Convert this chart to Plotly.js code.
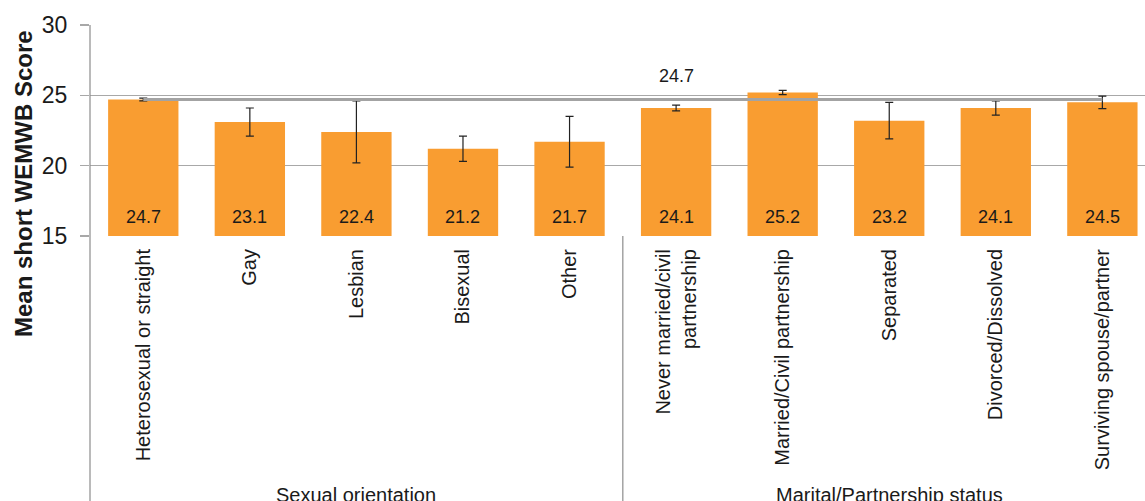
<!DOCTYPE html>
<html>
<head>
<meta charset="utf-8">
<script src="https://cdn.plot.ly/plotly-3.0.1.min.js"></script>
<style>
  html, body { margin: 0; padding: 0; background: #fff; }
  #chart { width: 1145px; height: 501px; }
</style>
</head>
<body>
<div id="chart"></div>
<script>
// ---- data ----
const categories = [
  "Heterosexual or straight", "Gay", "Lesbian", "Bisexual", "Other",
  "Never married/civil<br>partnership", "Married/Civil partnership", "Separated",
  "Divorced/Dissolved", "Surviving spouse/partner"
];
const meanScores = [24.7, 23.1, 22.4, 21.2, 21.7, 24.1, 25.2, 23.2, 24.1, 24.5];
const errorHalf  = [0.1, 1.0, 2.2, 0.9, 1.8, 0.2, 0.15, 1.3, 0.5, 0.45];
const overallMean = 24.7;
const groups = ["Sexual orientation", "Marital/Partnership status"];
const groupSizes = [5, 5];
const yTicks = [15, 20, 25, 30];

// ---- layout geometry ----
const W = 1145, H = 501;
const mL = 90, mR = 0, mT = 25, mB = 265;
const plotW = W - mL - mR, plotH = H - mT - mB;
const xRange = [-0.5, categories.length - 0.6];
const yRange = [yTicks[0], yTicks[yTicks.length - 1]];
const px2x = p => (p - mL) / plotW;
const px2y = p => (H - mB - p) / plotH;
const cat2paper = c => (c - xRange[0]) / (xRange[1] - xRange[0]);

const orange = "#F99D31";
const txt = "#1a1a1a";
const font = "Liberation Sans, Arial, sans-serif";

const bars = {
  type: "bar",
  x: categories,
  y: meanScores,
  width: 0.66,
  marker: { color: orange, line: { width: 0 } },
  error_y: { type: "data", array: errorHalf, visible: true, color: "#222", thickness: 1.2, width: 4 },
  hoverinfo: "x+y",
  showlegend: false
};

const refLine = {
  type: "scatter",
  mode: "lines",
  x: [categories[0], categories[categories.length - 1]],
  y: [overallMean, overallMean],
  line: { color: "#a3a3a3", width: 3 },
  hoverinfo: "skip",
  showlegend: false
};

const annotations = [];
categories.forEach((c, i) => {
  annotations.push({
    x: c, y: yRange[0], xref: "x", yref: "y",
    text: meanScores[i].toFixed(1), showarrow: false,
    yanchor: "bottom", yshift: 7,
    font: { family: font, size: 18, color: txt }
  });
});
annotations.push({
  x: categories[5], y: overallMean, xref: "x", yref: "y",
  text: overallMean.toFixed(1), showarrow: false,
  yanchor: "bottom", yshift: 12,
  font: { family: font, size: 18, color: txt }
});
// y-axis title
annotations.push({
  x: px2x(23), y: px2y(184), xref: "paper", yref: "paper",
  text: "<b>Mean short WEMWB Score</b>", showarrow: false, textangle: -90,
  xanchor: "center", yanchor: "middle",
  font: { family: font, size: 24, color: txt }
});
// group labels, centred on their group of categories
let start = 0;
groups.forEach((g, i) => {
  const mid = start + (groupSizes[i] - 1) / 2;
  start += groupSizes[i];
  annotations.push({
    x: cat2paper(mid), y: px2y(482), xref: "paper", yref: "paper",
    text: g, showarrow: false, xanchor: "center", yanchor: "top",
    font: { family: font, size: 20, color: txt }
  });
});

const shapes = [
  // left axis line extended down through category area
  { type: "line", xref: "paper", yref: "paper", x0: 0, x1: 0, y0: 1, y1: px2y(H + 5),
    line: { color: "#8c8c8c", width: 1.2 } },
  // group separator
  { type: "line", xref: "paper", yref: "paper",
    x0: cat2paper(groupSizes[0] - 0.5), x1: cat2paper(groupSizes[0] - 0.5),
    y0: 0, y1: px2y(H + 5), line: { color: "#8c8c8c", width: 1.2 } }
];

const layout = {
  width: W, height: H,
  margin: { l: mL, r: mR, t: mT, b: mB, pad: 0 },
  paper_bgcolor: "#fff", plot_bgcolor: "#fff",
  font: { family: font, color: txt },
  xaxis: {
    type: "category", range: xRange, automargin: false,
    tickangle: -90, ticks: "", showgrid: false, showline: false, zeroline: false,
    tickfont: { family: font, size: 20, color: txt },
    ticklabelstandoff: 8
  },
  yaxis: {
    range: yRange, tickvals: yTicks, automargin: false,
    showgrid: true, gridcolor: "#a8a8a8", gridwidth: 1.2,
    zeroline: false, showline: false,
    ticks: "outside", ticklen: 9, tickcolor: "#a8a8a8", tickwidth: 1.2,
    ticklabelstandoff: 8,
    tickfont: { family: font, size: 23, color: txt }
  },
  annotations: annotations,
  shapes: shapes
};

Plotly.newPlot("chart", [bars, refLine], layout, { displayModeBar: false, staticPlot: true });
</script>
</body>
</html>
